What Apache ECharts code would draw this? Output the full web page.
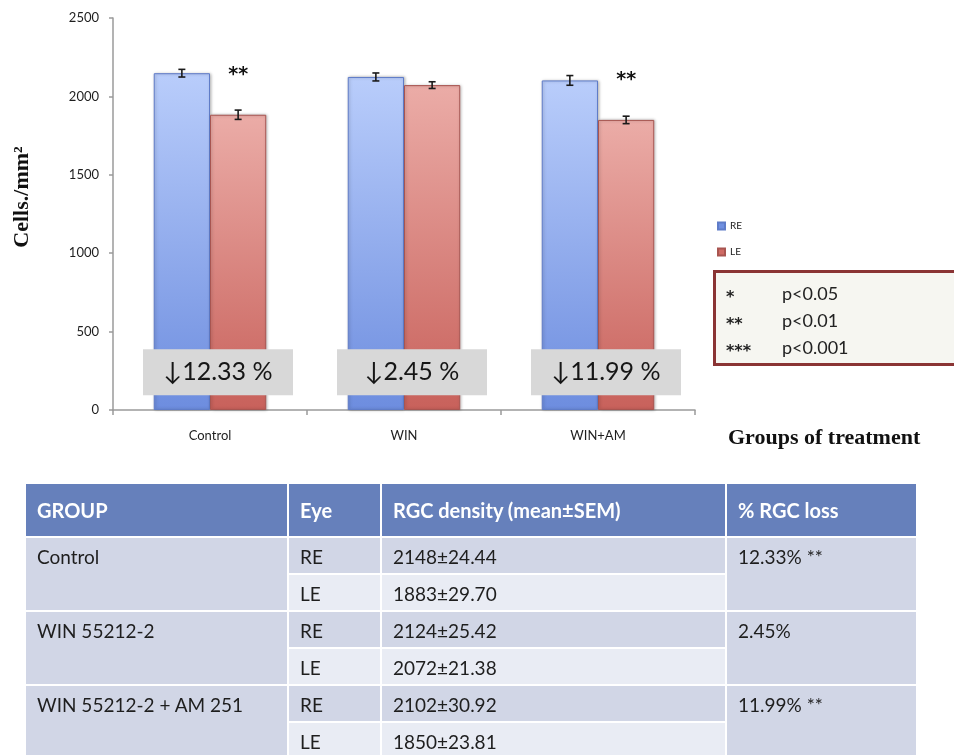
<!DOCTYPE html>
<html><head><meta charset="utf-8">
<script src="https://cdn.jsdelivr.net/npm/echarts@6/dist/echarts.min.js"></script>
<style>
html,body{margin:0;padding:0;background:#fff;width:954px;height:755px;overflow:hidden;}
#chart{position:absolute;left:0;top:0;width:954px;height:755px;}
#tbl{position:absolute;left:24px;top:482px;border-collapse:collapse;table-layout:fixed;width:892px;font-family:Lato,'Open Sans',sans-serif;}
#tbl td,#tbl th{border:2px solid #fff;padding:8px 0 0 11px;text-align:left;vertical-align:top;color:#1e1e1e;font-size:19px;line-height:22px;font-weight:normal;box-sizing:border-box;}
#tbl th{background:#6680bb;color:#fff;font-weight:bold;font-size:20px;vertical-align:middle;padding-top:0;height:54px;}
#tbl tr.b td{height:37px;}
.d{background:#d1d6e6 !important;}
.l{background:#e9ecf4 !important;}
</style></head><body>
<div id="chart"></div>
<table id="tbl"></table>
<script>
// ---- data ----
const categories = ['Control', 'WIN', 'WIN+AM'];
const groupNames = ['Control', 'WIN 55212-2', 'WIN 55212-2 + AM 251'];
const seriesNames = ['RE', 'LE'];
const reMean = [2148, 2124, 2102];
const reSem = [24.44, 25.42, 30.92];
const leMean = [1883, 2072, 1850];
const leSem = [29.70, 21.38, 23.81];
const pctLoss = ['12.33', '2.45', '11.99'];
const sigMarks = ['**', '', '**'];
const yAxisMin = 0, yAxisMax = 2500, yAxisStep = 500;
const tableHeader = ['GROUP', 'Eye', 'RGC density (mean\u00b1SEM)', '% RGC loss'];
const pLegendStars = ['*', '**', '***'];
const pLegendText = ['p<0.05', 'p<0.01', 'p<0.001'];

// ---- chart ----
const BAR_FRAC = 0.29;
const chart = echarts.init(document.getElementById('chart'), null, {renderer: 'canvas'});
const errData = [];
categories.forEach((c, i) => {
  errData.push([i, reMean[i], reSem[i], -1]);
  errData.push([i, leMean[i], leSem[i], 1]);
});
const boxValue = 240;

const option = {
  animation: false,
  grid: {left: 113, top: 18, right: 259, bottom: 345},
  legend: {
    data: [
      {name: 'RE', itemStyle: {color: '#6f8fe0'}},
      {name: 'LE', itemStyle: {color: '#cf6a64'}}
    ],
    orient: 'vertical', left: 712, top: 216, icon: 'rect',
    itemWidth: 7, itemHeight: 7, itemGap: 16,
    textStyle: {fontFamily: 'Lato', fontSize: 10, color: '#222'}
  },
  xAxis: {
    type: 'category', data: categories,
    axisLine: {lineStyle: {color: '#9a9a9a', width: 1.5}},
    axisTick: {show: true, length: 5, lineStyle: {color: '#9a9a9a', width: 1.5}},
    axisLabel: {fontFamily: 'Lato', fontSize: 13, color: '#1e1e1e', margin: 19}
  },
  yAxis: {
    type: 'value', min: yAxisMin, max: yAxisMax, interval: yAxisStep,
    axisLine: {show: true, lineStyle: {color: '#9a9a9a', width: 1.5}},
    axisTick: {show: true, length: 4, lineStyle: {color: '#9a9a9a', width: 1.5}},
    splitLine: {show: false},
    axisLabel: {fontFamily: 'Lato', fontSize: 13, color: '#1e1e1e', margin: 14, formatter: v => String(v)}
  },
  series: [
    {
      name: 'RE', type: 'bar', data: reMean, barWidth: (BAR_FRAC * 100) + '%', barGap: '0%',
      itemStyle: {
        color: new echarts.graphic.LinearGradient(0, 0, 0, 1, [
          {offset: 0, color: '#b9cdfb'}, {offset: 1, color: '#6d8ddf'}]),
        borderColor: '#5f7cc8', borderWidth: 1,
        shadowColor: 'rgba(0,0,0,0.25)', shadowBlur: 3, shadowOffsetX: 1
      }
    },
    {
      name: 'LE', type: 'bar', data: leMean, barWidth: (BAR_FRAC * 100) + '%', barGap: '0%',
      itemStyle: {
        color: new echarts.graphic.LinearGradient(0, 0, 0, 1, [
          {offset: 0, color: '#ebaca7'}, {offset: 1, color: '#c8615b'}]),
        borderColor: '#a85550', borderWidth: 1,
        shadowColor: 'rgba(0,0,0,0.25)', shadowBlur: 3, shadowOffsetX: 1
      },
      label: {
        show: true, position: 'top', distance: 30,
        formatter: p => sigMarks[p.dataIndex],
        fontFamily: 'DejaVu Sans', fontSize: 19, fontWeight: 'bold', color: '#111'
      }
    },
    {
      type: 'custom', z: 4, data: errData, encode: {x: 0, y: 1},
      renderItem: function (params, api) {
        const ci = api.value(0), m = api.value(1), s = api.value(2), side = api.value(3);
        const bw = api.size([1, 0])[0] * BAR_FRAC;
        const x = api.coord([ci, m])[0] + side * bw / 2;
        const top = api.coord([ci, m + s])[1], bot = api.coord([ci, m - s])[1];
        const cap = 3.5, st = {stroke: '#1a1a1a', lineWidth: 1.6};
        return {type: 'group', children: [
          {type: 'line', shape: {x1: x, y1: top, x2: x, y2: bot}, style: st},
          {type: 'line', shape: {x1: x - cap, y1: top, x2: x + cap, y2: top}, style: st},
          {type: 'line', shape: {x1: x - cap, y1: bot, x2: x + cap, y2: bot}, style: st}
        ]};
      }
    },
    {
      type: 'scatter', z: 6, symbolSize: 0, silent: true,
      itemStyle: {opacity: 1},
      data: categories.map((c, i) => [i, boxValue]),
      label: {
        show: true, position: 'inside', offset: [8, 0], opacity: 1,
        formatter: p => '\u2193' + pctLoss[p.dataIndex] + ' %',
        backgroundColor: '#d8d8d8', width: 128, height: 30, padding: [8, 11],
        fontFamily: 'Lato', fontSize: 25, color: '#161616'
      }
    }
  ],
  graphic: [
    {
      type: 'text', x: 33, y: 197, rotation: Math.PI / 2,
      style: {text: 'Cells./mm\u00b2', font: 'bold 22px "Liberation Serif"', fill: '#111',
              align: 'center', verticalAlign: 'bottom'}
    },
    {
      type: 'text', left: 728, top: 427,
      style: {text: 'Groups of treatment', font: 'bold 22px "Liberation Serif"', fill: '#111'}
    },
    {
      type: 'group', left: 713, top: 270,
      children: [
        {type: 'rect', shape: {x: 1.5, y: 1.5, width: 262, height: 93},
         style: {fill: '#f6f6f1', stroke: '#8a3434', lineWidth: 3}}
      ].concat(pLegendStars.map((s, i) => ({
        type: 'text', x: 13, y: 28 + i * 27,
        style: {text: s, font: 'bold 16px "DejaVu Sans"', fill: '#222', verticalAlign: 'middle'}
      }))).concat(pLegendText.map((s, i) => ({
        type: 'text', x: 69, y: 24 + i * 27,
        style: {text: s, font: '18px Lato', fill: '#222', verticalAlign: 'middle'}
      })))
    }
  ]
};
chart.setOption(option);

// ---- table ----
const tbl = document.getElementById('tbl');
let html = '<colgroup><col style="width:263px"><col style="width:93px"><col style="width:345px"><col style="width:191px"></colgroup>';
html += '<tr>' + tableHeader.map(h => '<th>' + h + '</th>').join('') + '</tr>';
groupNames.forEach((g, i) => {
  const loss = pctLoss[i] + '%' + (sigMarks[i] ? ' ' + sigMarks[i] : '');
  html += '<tr class="b"><td class="d" rowspan="2">' + g + '</td><td class="d">' + seriesNames[0] +
    '</td><td class="d">' + reMean[i] + '\u00b1' + reSem[i].toFixed(2) + '</td><td class="d" rowspan="2">' + loss + '</td></tr>';
  html += '<tr class="b"><td class="l">' + seriesNames[1] + '</td><td class="l">' + leMean[i] + '\u00b1' + leSem[i].toFixed(2) + '</td></tr>';
});
tbl.innerHTML = html;
</script>
</body></html>
